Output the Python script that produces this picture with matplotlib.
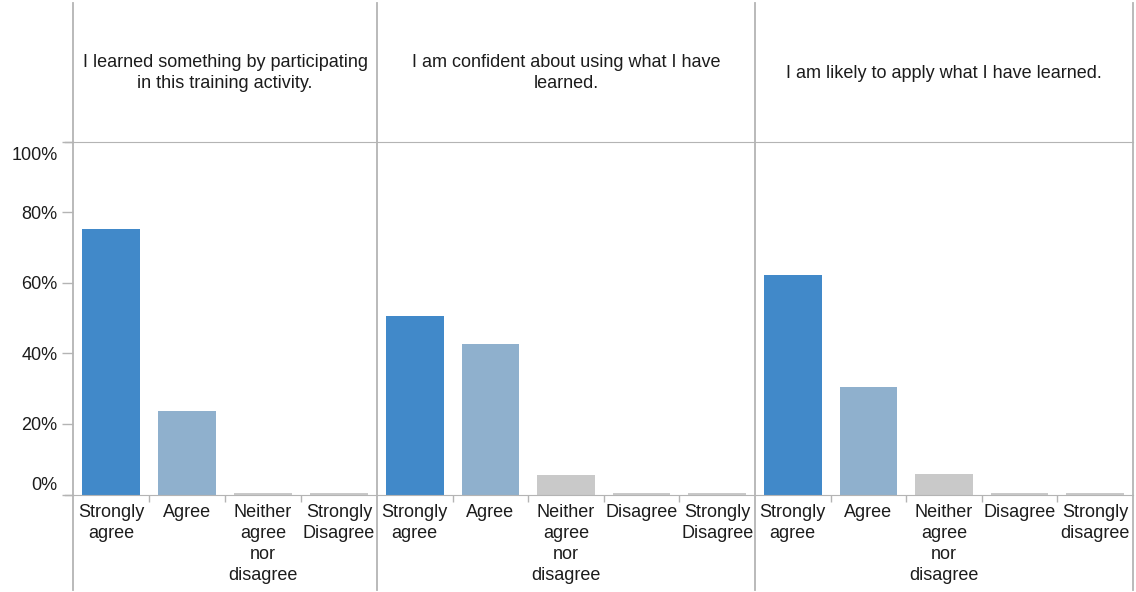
import numpy as np
import matplotlib.pyplot as plt
from matplotlib.lines import Line2D
from matplotlib.transforms import ScaledTranslation

plt.rcParams['font.family'] = ['Liberation Sans', 'DejaVu Sans']

# ---- data ----
questions = [
    "I learned something by participating\nin this training activity.",
    "I am confident about using what I have\nlearned.",
    "I am likely to apply what I have learned.",
]

cats_1 = ["Strongly\nagree", "Agree", "Neither\nagree\nnor\ndisagree", "Strongly\nDisagree"]
cats_2 = ["Strongly\nagree", "Agree", "Neither\nagree\nnor\ndisagree", "Disagree", "Strongly\nDisagree"]
cats_3 = ["Strongly\nagree", "Agree", "Neither\nagree\nnor\ndisagree", "Disagree", "Strongly\ndisagree"]

pct_1 = [75.2, 23.7, 0.0, 0.0]
pct_2 = [50.6, 42.6, 5.5, 0.0, 0.0]
pct_3 = [62.2, 30.5, 5.8, 0.0, 0.0]

y_ticks = [0, 20, 40, 60, 80, 100]

# ---- style ----
W, H = 1136, 592
c_sa = "#4189c9"
c_ag = "#8fb0cd"
c_other = "#c9c9c9"
c_line = "#b4b4b4"
c_text = "#1c1c1c"
fs = 13
ls = 1.3

# panel edges in pixels
edges = [73, 377, 755, 1133]
y_top, y_bot = 141.5, 494.5

panels = [(cats_1, pct_1), (cats_2, pct_2), (cats_3, pct_3)]

fig = plt.figure(figsize=(W / 100, H / 100), dpi=100)

for i, (cats, vals) in enumerate(panels):
    x0, x1 = edges[i], edges[i + 1]
    ax = fig.add_axes([x0 / W, 1 - y_bot / H, (x1 - x0) / W, (y_bot - y_top) / H])
    n = len(cats)
    pos = np.arange(n)
    colors = [c_sa, c_ag] + [c_other] * (n - 2)
    # zero answers still get a hairline bar
    heights = np.maximum(np.array(vals), 0.45)
    ax.bar(pos, heights, width=0.76, color=colors, zorder=2)

    ax.set_xlim(-0.5, n - 0.5)
    ax.set_ylim(0, 100)

    for s in ax.spines.values():
        s.set_visible(False)
    ax.spines['bottom'].set_visible(True)
    ax.spines['bottom'].set_color(c_line)
    ax.spines['top'].set_visible(True)
    ax.spines['top'].set_color(c_line)

    ax.set_xticks(pos)
    ax.set_xticklabels(cats, fontsize=fs, color=c_text, va='top', linespacing=ls)
    ax.tick_params(axis='x', which='major', length=0, pad=7)
    ax.set_xticks(np.arange(0.5, n - 1, 1.0), minor=True)
    ax.tick_params(axis='x', which='minor', length=5, color=c_line, width=1)

    if i == 0:
        ax.set_yticks(y_ticks)
        ax.set_yticklabels([f"{t}%" for t in y_ticks], fontsize=fs, color=c_text)
        ax.tick_params(axis='y', length=8, color=c_line, width=1, pad=3)
        labs = ax.get_yticklabels()
        labs[0].set_va('bottom')
        labs[-1].set_va('top')
        labs[-1].set_transform(labs[-1].get_transform() + ScaledTranslation(0, -0.05, fig.dpi_scale_trans))
    else:
        ax.set_yticks([])

    fig.text((x0 + x1) / 2 / W, 1 - 73 / H, questions[i], ha='center', va='center',
             fontsize=fs, color=c_text, linespacing=ls)

# extend the top border and baseline to the left like ticks
fig.add_artist(Line2D([65 / W, 73 / W], [1 - y_top / H] * 2, color=c_line, lw=1))
fig.add_artist(Line2D([65 / W, 73 / W], [1 - y_bot / H] * 2, color=c_line, lw=1))

# panel dividers running full height
for x in edges:
    fig.add_artist(Line2D([x / W, x / W], [1 - 3 / H, 1 - 590 / H], color=c_line, lw=1.3))

fig.savefig("out.png", dpi=100)
